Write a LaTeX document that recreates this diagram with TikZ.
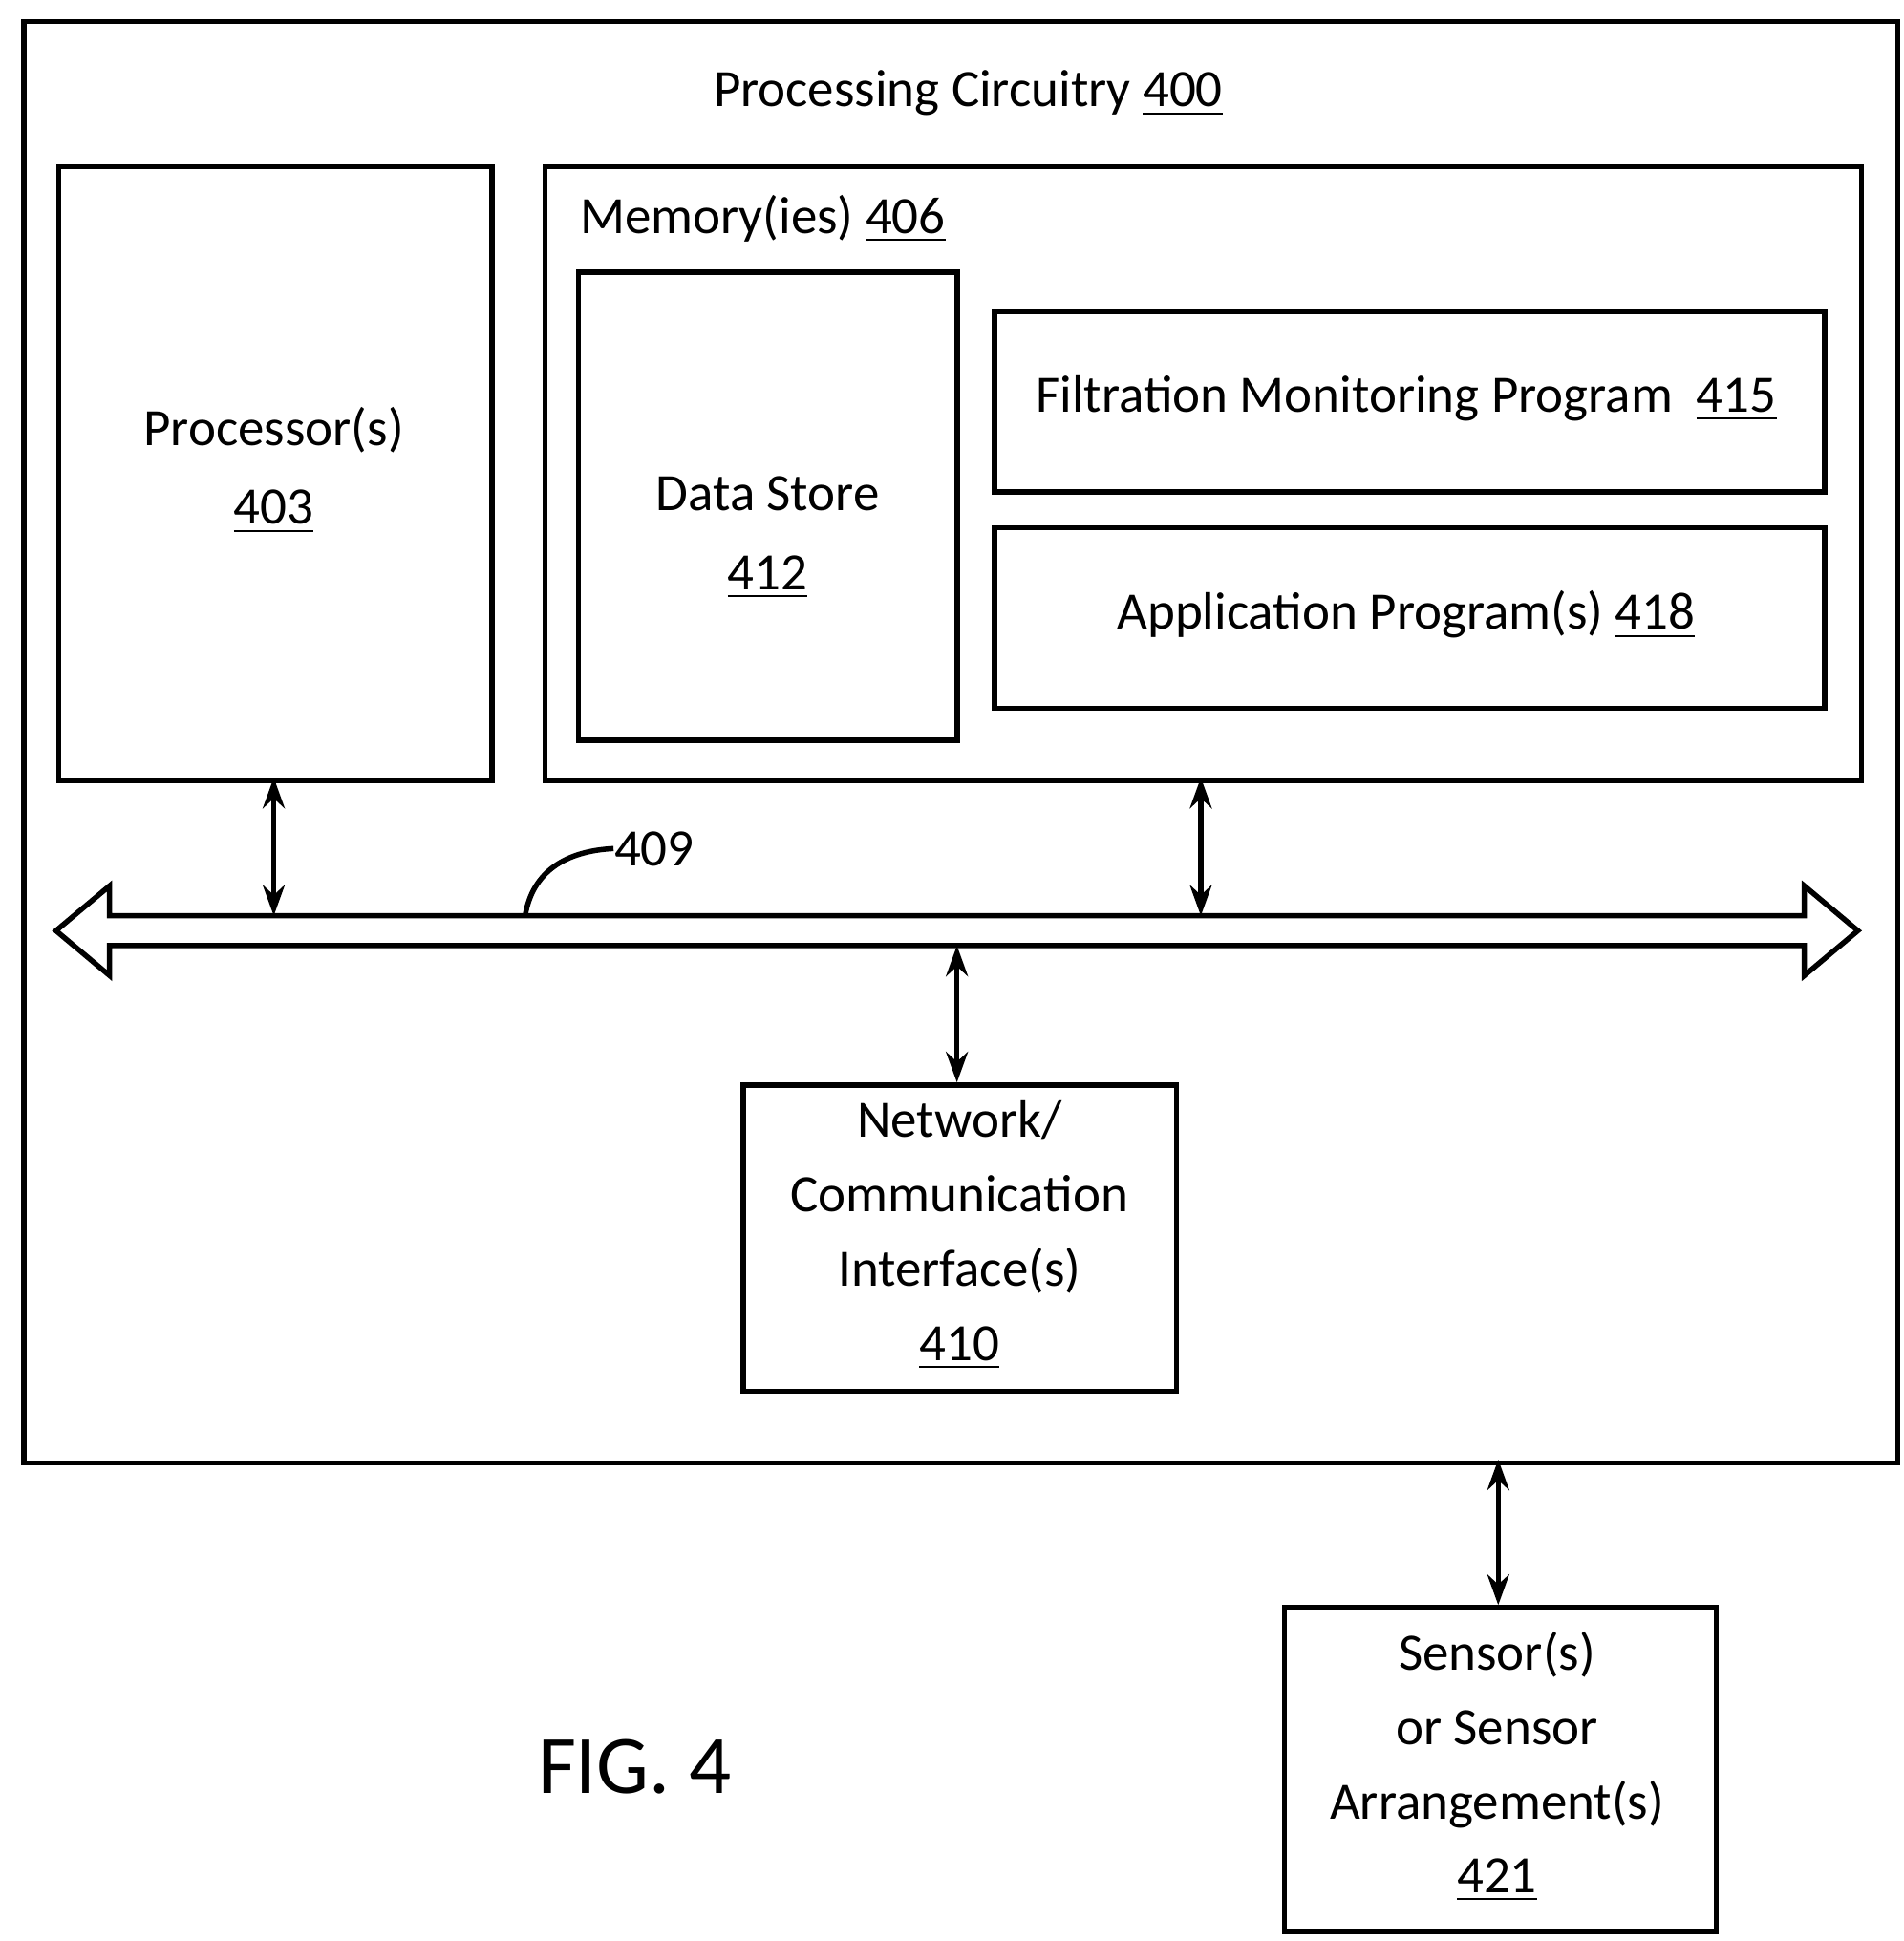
\documentclass[tikz,border=0pt]{standalone}
\usepackage{fontspec}
\setmainfont{Carlito}
\usetikzlibrary{arrows.meta,shapes.geometric}
\begin{document}
\begin{tikzpicture}[x=0.01cm,y=-0.01cm,
  box/.style={draw,line width=1.2pt,inner sep=0,anchor=north west},
  txt/.style={font=\fontsize{12}{14}\selectfont,align=center,inner sep=0},
  conn/.style={line width=1.2pt,{Stealth[length=7pt,width=5pt]}-{Stealth[length=7pt,width=5pt]}}]
\useasboundingbox (0,0) rectangle (1530,1560);
\node[box,minimum width=1505\pgflinewidth*0+15.05cm,minimum height=11.58cm] (outer) at (17,15) {};
\node[txt] (title) at (778,75) {Processing Circuitry \underline{400}};
\node[box,minimum width=3.48cm,minimum height=4.93cm] (proc) at (45,132) {};
\node[txt] (proct) at (220,378) {Processor(s)\\[4pt]\underline{403}};
\node[box,minimum width=10.57cm,minimum height=4.93cm] (mem) at (436,132) {};
\node[txt] (memt) at (613,176) {Memory(ies) \underline{406}};
\node[draw,line width=1.2pt,cylinder,shape border rotate=90,aspect=0.45,minimum width=3.04cm,minimum height=3.76cm,inner sep=0] (ds) at (617,408) {};
\node[txt] (dst) at (617,432) {Data Store\\[4pt]\underline{412}};
\node[box,minimum width=6.67cm,minimum height=1.45cm] (filt) at (797,248) {};
\node[txt] (filtt) at (1130,320) {Filtration Monitoring Program \ \underline{415}};
\node[box,minimum width=6.67cm,minimum height=1.45cm] (app) at (797,422) {};
\node[txt] (appt) at (1130,494) {Application Program(s) \underline{418}};
\draw[line width=1.2pt] (45,748) -- (88,712) -- (88,736) -- (1450,736) -- (1450,712) -- (1493,748) -- (1450,784) -- (1450,760) -- (88,760) -- (88,784) -- cycle;
\coordinate (b1) at (220,736);
\coordinate (b2) at (965,736);
\coordinate (b3) at (769,760);
\coordinate (c409) at (422,736);
\node[txt,anchor=west] (l409) at (493,682) {409};
\draw[line width=1.2pt] (c409) .. controls (428,700) and (455,684) .. (l409.west);
\node[box,minimum width=3.48cm,minimum height=2.46cm] (net) at (595,870) {};
\node[txt] (nett) at (771,993) {Network/\\[3pt]Communication\\[3pt]Interface(s)\\[3pt]\underline{410}};
\node[box,minimum width=3.47cm,minimum height=2.6cm] (sens) at (1030,1290) {};
\node[txt] (senst) at (1203,1420) {Sensor(s)\\[3pt]or Sensor\\[3pt]Arrangement(s)\\[3pt]\underline{421}};
\node[font=\fontsize{19}{22}\selectfont,inner sep=0] (fig) at (510,1420) {FIG. 4};
\draw[conn] (220,625) -- (b1);
\draw[conn] (965,625) -- (b2);
\draw[conn] (b3) -- (769,870);
\draw[conn] (1204,1173) -- (1204,1290);
\end{tikzpicture}
\end{document}
